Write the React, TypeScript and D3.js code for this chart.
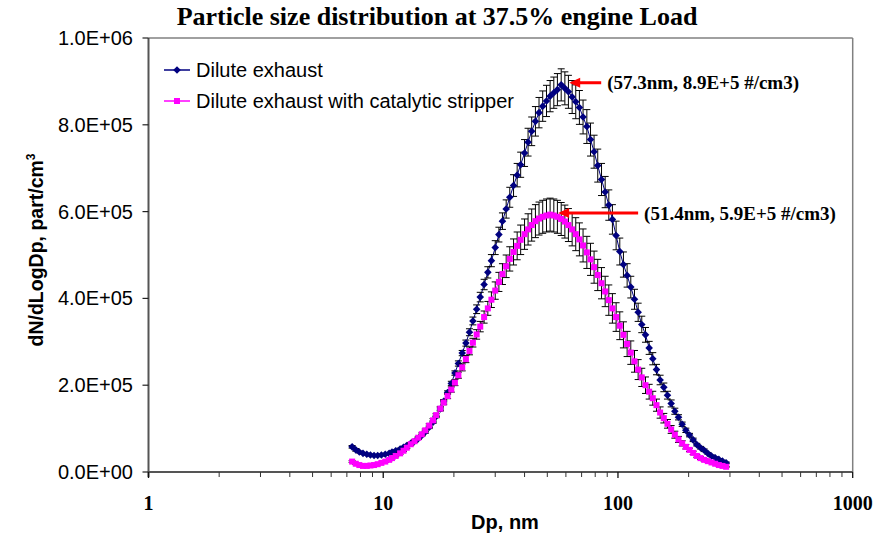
import React from "react";
import * as d3 from "d3";

const W = 875;
const H = 533;

// SMPS channel mid-point diameters (nm)
const diameters = [
  7.37, 7.64, 7.91, 8.2, 8.51, 8.82, 9.14, 9.47, 9.82, 10.2, 10.6, 10.9, 11.3, 11.8, 12.2, 12.6, 13.1, 13.6, 14.1, 14.6,
  15.1, 15.7, 16.3, 16.8, 17.5, 18.1, 18.8, 19.5, 20.2, 20.9, 21.7, 22.5, 23.3, 24.1, 25.0, 25.9, 26.9, 27.9, 28.9, 30.0,
  31.1, 32.2, 33.4, 34.6, 35.9, 37.2, 38.5, 40.0, 41.4, 42.9, 44.5, 46.1, 47.8, 49.6, 51.4, 53.3, 55.2, 57.3, 59.4, 61.5,
  63.8, 66.1, 68.5, 71.0, 73.7, 76.4, 79.1, 82.0, 85.1, 88.2, 91.4, 94.7, 98.2, 101.8, 105.5, 109.4, 113.4, 117.6, 121.9, 126.3,
  131.0, 135.8, 140.7, 145.9, 151.2, 156.8, 162.5, 168.5, 174.7, 181.1, 187.7, 194.6, 201.7, 209.1, 216.7, 224.7, 232.9, 241.4, 250.3, 259.5,
  269.0, 278.8, 289.0,
];

// dN/dLogDp (thousand part/cm3)
const diluteExhaust = [
  58, 51, 46, 43, 41, 39, 38, 38, 39, 41, 43, 46, 49, 53, 57, 61, 66, 71, 77, 84,
  92, 103, 115, 128, 145, 163, 183, 204, 228, 250, 274, 297, 322, 348, 375, 403, 432, 460, 487, 517,
  547, 578, 606, 633, 660, 684, 708, 735, 760, 785, 808, 828, 843, 855, 866, 874, 881, 892, 884, 876,
  864, 853, 840, 818, 796, 766, 738, 706, 674, 645, 615, 582, 545, 508, 478, 453, 426, 398, 368, 340,
  316, 286, 261, 236, 212, 195, 177, 158, 140, 126, 110, 96, 85, 74, 63, 56, 50, 43, 37, 33,
  29, 25, 21,
];

const withStripper = [
  24, 19, 16, 14, 14, 15, 16, 18, 21, 24, 28, 32, 37, 43, 49, 56, 64, 71, 79, 87,
  96, 107, 119, 131, 146, 160, 175, 190, 206, 223, 241, 260, 279, 298, 317, 335, 357, 377, 397, 418,
  438, 456, 474, 491, 507, 521, 535, 548, 559, 569, 578, 584, 588, 591, 593, 591, 588, 583, 577, 569,
  559, 548, 536, 522, 506, 490, 472, 454, 435, 416, 396, 377, 357, 337, 316, 295, 275, 255, 236, 218,
  200, 185, 170, 154, 137, 124, 111, 98, 86, 75, 66, 58, 51, 44, 37, 32, 28, 25, 22, 19,
  16, 14, 12,
];

// error bar half-heights (thousand part/cm3)
const diluteError = [
  3, 3, 2, 2, 2, 2, 2, 2, 2, 2, 2, 2, 2, 2, 2, 2, 2, 2, 2, 2,
  3, 3, 3, 3, 4, 4, 4, 5, 5, 6, 6, 7, 8, 9, 10, 11, 12, 13, 14, 16,
  17, 19, 21, 23, 25, 27, 29, 31, 32, 33, 34, 35, 35, 36, 36, 36, 37, 37, 38, 38,
  38, 39, 39, 39, 39, 38, 38, 38, 37, 36, 35, 34, 33, 31, 29, 27, 25, 23, 21, 19,
  17, 15, 14, 12, 11, 10, 9, 8, 7, 6, 5, 5, 4, 4, 3, 3, 3, 2, 2, 2,
  2, 2, 2,
];

const stripperError = [
  2, 2, 1, 1, 1, 1, 1, 1, 1, 2, 2, 2, 2, 2, 2, 2, 3, 3, 3, 3,
  3, 4, 4, 4, 5, 5, 6, 6, 7, 7, 8, 8, 9, 10, 11, 12, 14, 16, 18, 20,
  22, 24, 26, 28, 30, 32, 34, 35, 36, 37, 38, 38, 38, 38, 38, 38, 38, 38, 38, 38,
  38, 38, 38, 38, 37, 37, 37, 36, 36, 35, 35, 34, 33, 32, 30, 29, 27, 25, 23, 21,
  19, 17, 16, 14, 13, 11, 10, 9, 8, 7, 6, 5, 4, 4, 3, 3, 3, 2, 2, 2,
  2, 1, 1,
];

const yTicks = [0, 200000, 400000, 600000, 800000, 1000000];
const yTickLabels = ["0.0E+00", "2.0E+05", "4.0E+05", "6.0E+05", "8.0E+05", "1.0E+06"];
const xTicks = [1, 10, 100, 1000];
const xTickLabels = ["1", "10", "100", "1000"];

const seriesNames = ["Dilute exhaust", "Dilute exhaust with catalytic stripper"];

const peakDp = [57.3, 51.4];
const peakN = [890000, 590000];
const peakLabels = ["(57.3nm, 8.9E+5 #/cm3)", "(51.4nm, 5.9E+5 #/cm3)"];

const NAVY = "#000080";
const MAGENTA = "#FF00FF";
const SANS = "'Liberation Sans', Arial, sans-serif";
const SERIF = "'Liberation Serif', 'Times New Roman', serif";

const L = 148.5, R = 852.7, T = 38, B = 472;

type Pt = { d: number; v: number; e: number };

export default function App() {
  const x = d3.scaleLog().domain([1, 1000]).range([L, R]);
  const y = d3.scaleLinear().domain([0, 1000000]).range([B, T]);

  const mk = (vals: number[], errs: number[]): Pt[] =>
    diameters.map((d, i) => ({ d, v: vals[i] * 1000, e: errs[i] * 1000 }));
  const s1 = mk(diluteExhaust, diluteError);
  const s2 = mk(withStripper, stripperError);

  const line = d3
    .line<Pt>()
    .x((p) => x(p.d))
    .y((p) => y(p.v));

  const minorTicks: number[] = [];
  for (let dec = 1; dec < 1000; dec *= 10) {
    for (let k = 2; k <= 9; k++) minorTicks.push(dec * k);
  }

  const diamond = (cx: number, cy: number, r = 3.8) =>
    `M${cx},${cy - r}L${cx + r},${cy}L${cx},${cy + r}L${cx - r},${cy}Z`;

  const errBars = (pts: Pt[], key: string) =>
    pts.map((p, i) => {
      const cx = x(p.d);
      const y1 = y(p.v + p.e);
      const y2 = y(p.v - p.e);
      return (
        <g key={key + i} stroke="#000" strokeWidth={1}>
          <line x1={cx} x2={cx} y1={y1} y2={y2} />
          <line x1={cx - 3.5} x2={cx + 3.5} y1={y1} y2={y1} />
          <line x1={cx - 3.5} x2={cx + 3.5} y1={y2} y2={y2} />
        </g>
      );
    });

  const arrowTails = [32, 80];

  return (
    <svg
      width={W}
      height={H}
      style={{ position: "absolute", left: 0, top: 0, background: "#fff" }}
    >
      <rect x={0} y={0} width={W} height={H} fill="#fff" />
      <text
        x={437}
        y={25}
        textAnchor="middle"
        fontFamily={SERIF}
        fontWeight="bold"
        fontSize={26}
      >
        Particle size distribution at 37.5% engine Load
      </text>

      <line x1={L} x2={R} y1={T} y2={T} stroke="#808080" strokeWidth={1.5} />
      <line x1={R} x2={R} y1={T} y2={B} stroke="#808080" strokeWidth={1.5} />

      <line x1={L} x2={L} y1={T} y2={B + 5} stroke="#555" strokeWidth={2} />
      {yTicks.map((t, i) => (
        <g key={"yt" + i}>
          <line x1={L - 6} x2={L} y1={y(t)} y2={y(t)} stroke="#222" strokeWidth={1.2} />
          <text
            x={133}
            y={y(t)}
            dy="0.35em"
            textAnchor="end"
            fontFamily={SANS}
            fontSize={20}
          >
            {yTickLabels[i]}
          </text>
        </g>
      ))}

      <line x1={L} x2={R} y1={B} y2={B} stroke="#555" strokeWidth={2} />
      {minorTicks.map((t, i) => (
        <line key={"mt" + i} x1={x(t)} x2={x(t)} y1={B} y2={B + 5} stroke="#333" strokeWidth={1} />
      ))}
      {xTicks.map((t, i) => (
        <g key={"xt" + i}>
          <line x1={x(t)} x2={x(t)} y1={B} y2={B + 6} stroke="#111" strokeWidth={1.3} />
          <text
            x={x(t)}
            y={510}
            textAnchor="middle"
            fontFamily={SERIF}
            fontWeight="bold"
            fontSize={20}
          >
            {xTickLabels[i]}
          </text>
        </g>
      ))}

      <text
        x={505}
        y={529}
        textAnchor="middle"
        fontFamily={SANS}
        fontWeight="bold"
        fontSize={20}
      >
        Dp, nm
      </text>
      <text
        transform={`translate(43,250) rotate(-90)`}
        textAnchor="middle"
        fontFamily={SANS}
        fontWeight="bold"
        fontSize={19.5}
      >
        dN/dLogDp, part/cm<tspan dy={-8} fontSize={12}>3</tspan>
      </text>

      <path d={line(s1) || ""} fill="none" stroke={NAVY} strokeWidth={1} />
      {errBars(s1, "e1")}
      {s1.map((p, i) => (
        <path key={"m1" + i} d={diamond(x(p.d), y(p.v))} fill={NAVY} />
      ))}

      <path d={line(s2) || ""} fill="none" stroke={MAGENTA} strokeWidth={1} />
      {errBars(s2, "e2")}
      {s2.map((p, i) => (
        <rect key={"m2" + i} x={x(p.d) - 3} y={y(p.v) - 3} width={6} height={6} fill={MAGENTA} />
      ))}

      {peakDp.map((d, i) => {
        const tipX = x(d) + 8;
        const tipY = y(peakN[i]) - 3;
        const tailX = tipX + arrowTails[i];
        return (
          <g key={"an" + i}>
            <line x1={tailX} x2={tipX + 8} y1={tipY} y2={tipY} stroke="#FF0000" strokeWidth={3} />
            <path
              d={`M${tipX},${tipY}L${tipX + 11},${tipY - 5}L${tipX + 11},${tipY + 5}Z`}
              fill="#FF0000"
            />
            <text
              x={tailX + 6}
              y={tipY}
              dy="0.35em"
              fontFamily={SERIF}
              fontWeight="bold"
              fontSize={19}
            >
              {peakLabels[i]}
            </text>
          </g>
        );
      })}

      {seriesNames.map((name, i) => {
        const ly = i === 0 ? 70 : 101;
        const col = i === 0 ? NAVY : MAGENTA;
        return (
          <g key={"lg" + i}>
            <line x1={164} x2={190} y1={ly} y2={ly} stroke={col} strokeWidth={1.5} />
            {i === 0 ? (
              <path d={diamond(177, ly)} fill={col} />
            ) : (
              <rect x={174} y={ly - 3} width={6} height={6} fill={col} />
            )}
            <text x={196} y={ly} dy="0.35em" fontFamily={SANS} fontSize={20}>
              {name}
            </text>
          </g>
        );
      })}
    </svg>
  );
}
